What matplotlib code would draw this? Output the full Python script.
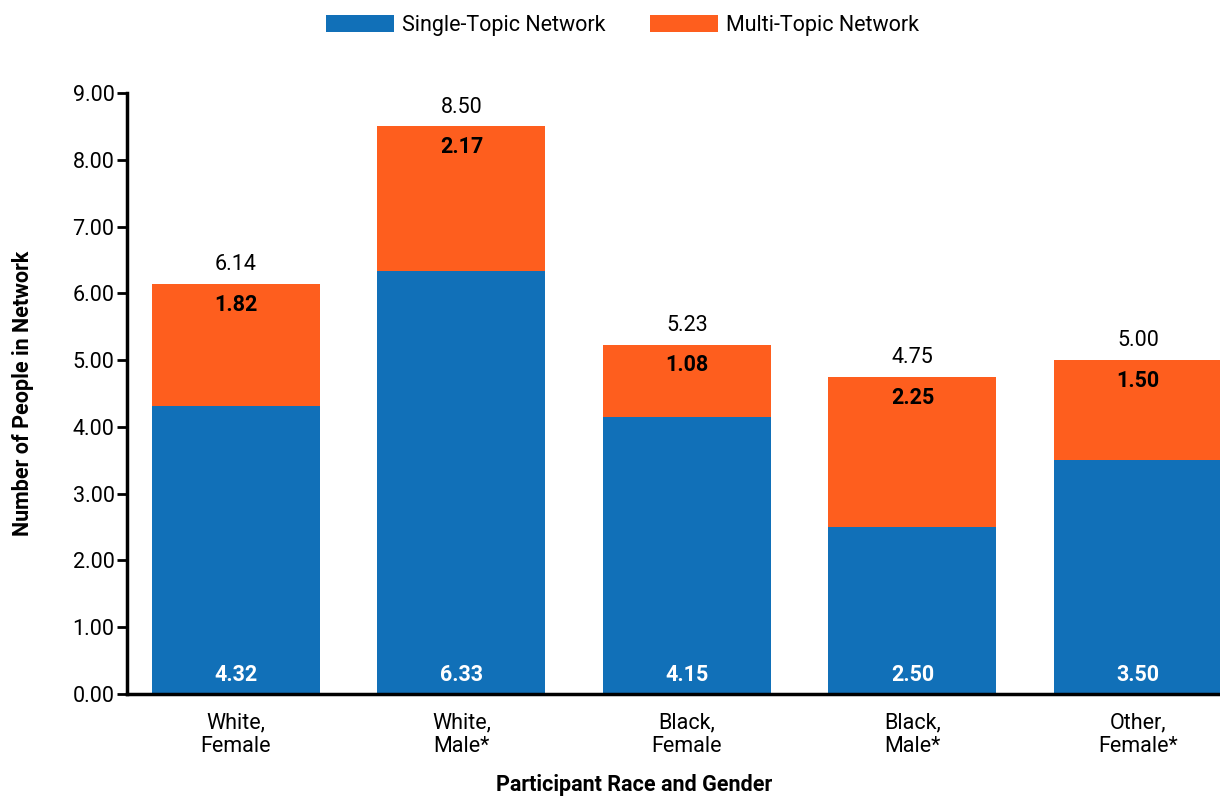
import matplotlib.pyplot as plt

plt.rcParams['font.family'] = ['Roboto', 'DejaVu Sans']

# Average network size by participant group
groups = ["White,\nFemale", "White,\nMale*", "Black,\nFemale", "Black,\nMale*", "Other,\nFemale*"]
single_topic = [4.32, 6.33, 4.15, 2.50, 3.50]
multi_topic = [1.82, 2.17, 1.08, 2.25, 1.50]
totals = [6.14, 8.50, 5.23, 4.75, 5.00]
y_ticks = [0, 1, 2, 3, 4, 5, 6, 7, 8, 9]

blue = "#1170b8"
orange = "#fe5e1e"
fs = 15.5

fig = plt.figure(figsize=(12.2, 7.97), dpi=100)
ax = fig.add_axes([0.1041, 0.1292, 0.8959, 0.7541])

x = list(range(len(groups)))
w = 0.745
ax.bar(x, single_topic, width=w, color=blue, label="Single-Topic Network")
ax.bar(x, multi_topic, width=w, bottom=single_topic, color=orange, label="Multi-Topic Network")

for i in x:
    ax.text(i, 0.29, f"{single_topic[i]:.2f}", ha="center", va="center",
            color="white", fontsize=fs, fontweight="bold")
    ax.text(i, single_topic[i] + multi_topic[i] - 0.31, f"{multi_topic[i]:.2f}",
            ha="center", va="center", color="black", fontsize=fs, fontweight="bold")
    ax.text(i, totals[i] + 0.29, f"{totals[i]:.2f}", ha="center", va="center",
            color="black", fontsize=fs)

ax.set_xlim(-0.483, 4.364)
ax.set_ylim(0, 9)
ax.set_yticks(y_ticks)
ax.set_yticklabels([f"{v:.2f}" for v in y_ticks], fontsize=fs)
ax.set_xticks(x)
ax.set_xticklabels(groups, fontsize=fs)
ax.tick_params(axis="x", length=0, pad=13)
ax.tick_params(axis="y", length=7, width=2, pad=2)

for s in ["top", "right"]:
    ax.spines[s].set_visible(False)
for s in ["left", "bottom"]:
    ax.spines[s].set_linewidth(2.5)

ax.set_xlabel("Participant Race and Gender", fontsize=fs, fontweight="bold")
ax.xaxis.set_label_coords(0.464, -0.1335)
ax.set_ylabel("Number of People in Network", fontsize=fs, fontweight="bold", labelpad=28)

fig.legend(loc="upper center", bbox_to_anchor=(0.510, 1.006), ncol=2, frameon=False,
           fontsize=fs, handlelength=3.16, handleheight=0.88, columnspacing=2.05,
           handletextpad=0.37)

fig.savefig("out.png", dpi=100)
